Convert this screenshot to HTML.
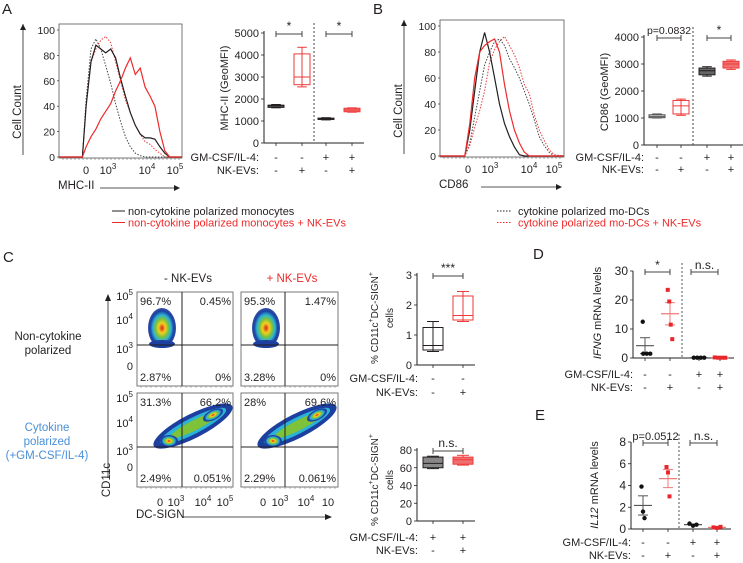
<!DOCTYPE html>
<html><head><meta charset="utf-8"><style>
html,body{margin:0;padding:0;background:#fff;width:743px;height:563px;overflow:hidden}
svg{font-family:"Liberation Sans",sans-serif;display:block}
</style></head><body>
<svg id="fig" width="743" height="563" viewBox="0 0 743 563" xmlns="http://www.w3.org/2000/svg">
<defs>
<radialGradient id="dens" cx="50%" cy="50%" r="50%">
<stop offset="0" stop-color="#e0201a"/><stop offset="0.25" stop-color="#f4d020"/><stop offset="0.45" stop-color="#7ec23a"/><stop offset="0.65" stop-color="#2bb3d6"/><stop offset="0.85" stop-color="#1d3fa0"/><stop offset="1" stop-color="#1d3fa0" stop-opacity="0.9"/>
</radialGradient>
</defs>
<g id="root"></g>
</svg>
<script>
// ---------- DATA ----------
const histAch = [0,19,22,26,30,34,38,42,46,50,54,58,62,66,70,74,78,82,86,90,100];
const histAblack = [0,0,40,75,88,85,82,85,78,62,48,35,25,18,15,15,14,8,3,0,0];
const histAgrey = [0,0,45,85,93,85,72,58,42,28,16,8,3,1,0,0,0,0,0,0,0];
const histAred = [0,0,8,16,22,30,36,42,52,60,70,78,65,70,55,48,40,20,5,0,0];
const histAredDot = [0,0,40,75,85,92,95,90,75,60,45,35,25,18,12,10,6,3,0,0,0];
const histBch = [0,20,24,28,32,36,40,44,48,52,56,60,64,68,72,76,80,84,88,92,100];
const histBblack = [0,0,20,50,80,95,80,60,40,25,15,7,1,0,0,0,0,0,0,0,0];
const histBred = [0,0,25,60,80,85,88,90,80,55,35,20,10,3,0,0,0,0,0,0,0];
const histBgrey = [0,0,10,30,50,70,80,88,90,85,75,68,60,50,40,28,15,8,3,0,0];
const histBredDot = [0,0,8,22,35,50,72,82,88,92,85,78,68,55,48,32,20,12,5,1,0];
const histTicks = [0,20,40,60,80,100];
const groupsGM = ["-","-","+","+"];
const groupsNK = ["-","+","-","+"];
// boxplots: [whiskerLow, q1, median, q3, whiskerHigh]
const boxA = [[1600,1620,1680,1720,1750],[2550,2650,3000,4050,4350],[1050,1070,1100,1130,1150],[1400,1420,1500,1580,1600]];
const boxATicks = [0,1000,2000,3000,4000,5000];
const boxB = [[1000,1010,1050,1120,1150],[1100,1150,1450,1650,1700],[2550,2600,2750,2850,2900],[2800,2850,3000,3100,3150]];
const boxBTicks = [0,1000,2000,3000,4000];
const boxC1 = [[0.45,0.5,0.65,1.25,1.45],[1.45,1.5,1.65,2.3,2.45]];
const boxC1Ticks = [0,1,2,3];
const boxC2 = [[59,60,65,72,73],[63,64,69,72,74]];
const boxC2Ticks = [0,20,40,60,80];
const dPoints = [[12.5,1.5,1.5,1.5],[23.5,19.5,11.5,6.5],[0.1,0.1,0.1,0.1],[0.2,0.1,0.1,0.1]];
const dTicks = [0,10,20,30];
const ePoints = [[3.9,1.6,1.0],[5.7,5.2,3.0],[0.5,0.3,0.4],[0.15,0.1,0.2]];
const eTicks = [0,2,4,6,8];

// ---------- HELPERS ----------
const NS="http://www.w3.org/2000/svg";
const root=document.getElementById('root');
function mk(tag,attrs,parent,text){const e=document.createElementNS(NS,tag);for(const k in attrs)e.setAttribute(k,attrs[k]);if(text!==undefined)e.textContent=text;(parent||root).appendChild(e);return e;}
function txt(x,y,s,opt,parent){opt=opt||{};const e=mk('text',{x:x,y:y,'font-size':opt.fs||10.5,fill:opt.fill||'#231f20','text-anchor':opt.anchor||'start'},parent);
 if(opt.rot)e.setAttribute('transform','rotate(-90 '+x+' '+y+')');
 e.innerHTML=s;return e;}
function line(x1,y1,x2,y2,st,w,dash,parent){const e=mk('line',{x1:x1,y1:y1,x2:x2,y2:y2,stroke:st||'#231f20','stroke-width':w||1},parent);if(dash)e.setAttribute('stroke-dasharray',dash);return e;}
function lin(d0,d1,r0,r1){return v=>r0+(v-d0)/(d1-d0)*(r1-r0);}
function sup(b,e){return b+'<tspan dy="-5" font-size="8">'+e+'</tspan>';}

// ---------- PANEL LETTERS ----------
[["A",2,14],["B",373,14],["C",3,262],["D",533,259],["E",535,420]].forEach(p=>{
 const t=txt(p[1],p[2],p[0],{fs:15});
 
 
});

// ---------- HISTOGRAM ----------
function histogram(name,x0,x1,yTop,yBot,ch,series,xt,xlabel){
 const g=mk('g',{},root);
 
 
 const fx=lin(0,100,x0,x1), fy=lin(0,100,yBot,30+(yTop-24));
 mk('rect',{x:x0,y:yTop,width:x1-x0,height:yBot-yTop+1,fill:'none',stroke:'#555','stroke-width':0.8},g);
 histTicks.forEach(t=>{txt(x0-4,fy(t)+4,t,{anchor:'end',fs:10.5},g);line(x0-2,fy(t),x0,fy(t),'#333',0.7,null,g);});
 series.forEach(s=>{
  let d='';ch.forEach((c,i)=>{d+=(i?'L':'M')+fx(c).toFixed(1)+','+fy(s.v[i]).toFixed(1);});
  const p=mk('path',{d:d,fill:'none',stroke:s.c,'stroke-width':s.w||1.2},g);
  if(s.dash)p.setAttribute('stroke-dasharray',s.dash);
  
  
 });
 for(let x=x0+4;x<x1;x+=4)line(x,yBot+1,x,yBot+3,'#555',0.5,null,g);
 xt.forEach(t=>txt(t[0],yBot+17,t[1],{anchor:'middle',fs:11},g));
 line(x0-36,yBot-2,x0-36,yTop,'#231f20',0.8,null,g);
 mk('path',{d:'M'+(x0-39)+','+(yTop+6)+'L'+(x0-36)+','+yTop+'L'+(x0-33)+','+(yTop+6),fill:'#231f20'},g);
 txt(x0-38,yBot-45,'Cell Count',{rot:1,anchor:'middle',fs:11.5},g);
 txt(x0-1,yBot+32,xlabel,{fs:11.5},g);
 line(x0+41,yBot+31,x1-3,yBot+31,'#231f20',0.8,null,g);
 mk('path',{d:'M'+(x1-8)+','+(yBot+28)+'L'+(x1-2)+','+(yBot+31)+'L'+(x1-8)+','+(yBot+34),fill:'#231f20'},g);
}
histogram('histogram-mhc-ii',59,182,24,157,histAch,[
 {v:histAgrey,c:'#444',dash:'1.5,1.5',w:1,n:'curve-cytokine-modc'},
 {v:histAredDot,c:'#ee3a3a',dash:'1.5,1.5',w:1,n:'curve-cytokine-modc-nkev'},
 {v:histAblack,c:'#231f20',n:'curve-monocytes'},
 {v:histAred,c:'#ee2a2a',n:'curve-monocytes-nkev'}],
 [[86,'0'],[108,sup('10','3')],[147,sup('10','4')],[175,sup('10','5')]],'MHC-II');
histogram('histogram-cd86',440,564,20,156,histBch,[
 {v:histBgrey,c:'#444',dash:'1.5,1.5',w:1,n:'curve-cytokine-modc'},
 {v:histBredDot,c:'#ee3a3a',dash:'1.5,1.5',w:1,n:'curve-cytokine-modc-nkev'},
 {v:histBblack,c:'#231f20',n:'curve-monocytes'},
 {v:histBred,c:'#ee2a2a',n:'curve-monocytes-nkev'}],
 [[468,'0'],[490,sup('10','3')],[529,sup('10','4')],[554,sup('10','5')]],'CD86');

// ---------- LEGENDS ----------
function legend(x,y,dash,labels){
 labels.forEach((l,i)=>{
  const g=mk('g',{},root);
  
  
  const yy=y+i*11.5;
  line(x,yy,x+(dash?15:13),yy,l[1],1,dash,g);
  txt(x+(dash?21:16),yy+4,l[0],{fs:11,fill:l[1]},g);
 });
}
legend(112,211,null,[['non-cytokine polarized monocytes','#231f20'],['non-cytokine polarized monocytes + NK-EVs','#ee2a2a']]);
legend(497,211,'1.5,1.5',[['cytokine polarized mo-DCs','#231f20'],['cytokine polarized mo-DCs + NK-EVs','#ee2a2a']]);

// ---------- GROUP LABEL ROWS ----------
function groupRows(xs,labelX,y1,y2,gm,nk,fs){
 txt(labelX,y1,'GM-CSF/IL-4:',{anchor:'end',fs:fs||11});
 txt(labelX,y2,'NK-EVs:',{anchor:'end',fs:fs||11});
 xs.forEach((x,i)=>{txt(x,y1,gm[i],{anchor:'middle',fs:fs||11});txt(x,y2,nk[i],{anchor:'middle',fs:fs||11});});
}

// ---------- BOXPLOT ----------
const boxStyles=[{s:'#231f20',f:'#888'},{s:'#ee3a3a',f:'none'},{s:'#231f20',f:'#555'},{s:'#ee3a3a',f:'#f07070'}];
function boxplot(name,axX,xs,yTopPx,yBotPx,dmax,ticks,boxes,styles,ylab,divX,sig,bw){
 const g=mk('g',{},root);
 
 
 const fy=lin(0,dmax,yBotPx,yTopPx);
 line(axX,fy(dmax)-2,axX,yBotPx,'#231f20',1,null,g);
 line(axX,yBotPx,xs[xs.length-1]+12,yBotPx,'#231f20',1,null,g);
 ticks.forEach(t=>{line(axX-3,fy(t),axX,fy(t),'#231f20',0.8,null,g);txt(axX-5,fy(t)+4,t,{anchor:'end',fs:11},g);});
 xs.forEach(x=>line(x,yBotPx,x,yBotPx+3,'#231f20',0.8,null,g));
 if(divX)line(divX,fy(dmax)-10,divX,yBotPx,'#444',1,'2,2',g);
 boxes.forEach((b,i)=>{
  const x=xs[i],st=styles[i],w=bw||8;
  const bg=mk('g',{},g);
  
  
  line(x,fy(b[0]),x,fy(b[4]),st.s,1,null,bg);
  line(x-w*0.6,fy(b[0]),x+w*0.6,fy(b[0]),st.s,1,null,bg);
  line(x-w*0.6,fy(b[4]),x+w*0.6,fy(b[4]),st.s,1,null,bg);
  mk('rect',{x:x-w,y:fy(b[3]),width:2*w,height:Math.max(1,fy(b[1])-fy(b[3])),fill:st.f,stroke:st.s,'stroke-width':1},bg);
  line(x-w,fy(b[2]),x+w,fy(b[2]),st.s,1,null,bg);
 });
 sig.forEach(s=>{
  const yb=fy(dmax)+1;
  line(s[0],yb,s[1],yb,'#444',1,null,g);line(s[0],yb-3,s[0],yb+3,'#444',1,null,g);line(s[1],yb-3,s[1],yb+3,'#444',1,null,g);
  txt((s[0]+s[1])/2,yb-4,s[2],{anchor:'middle',fs:s[2].length>4?10.5:12},g);
 });
 ylab.forEach(l=>txt(l[0],l[1],l[2],{rot:1,anchor:'middle',fs:l[3]||11},g));
 return fy;
}
boxplot('boxplot-mhc-ii',264,[276,302,326,352],33,143,5000,boxATicks,boxA,boxStyles,[[228,88,'MHC-II (GeoMFI)']],314,[[276,302,'*'],[326,352,'*']]);
groupRows([276,302,326,352],259,161,174,groupsGM,groupsNK);
boxplot('boxplot-cd86',644,[657,681,707,731],37,145,4000,boxBTicks,boxB,[{s:'#555',f:'#ccc'},{s:'#ee3a3a',f:'none'},{s:'#231f20',f:'#666'},{s:'#ee3a3a',f:'#f07070'}],[[608,92,'CD86 (GeoMFI)']],693,[[657,681,'p=0.0832'],[707,731,'*']]);
groupRows([657,681,707,731],644,161,173,groupsGM,groupsNK);
const cLab='% CD11c<tspan dy="-5" font-size="7">+</tspan><tspan dy="5">DC-SIGN</tspan><tspan dy="-5" font-size="7">+</tspan>';
boxplot('boxplot-dc-sign-noncytokine',417,[433,463],275,365,3,boxC1Ticks,boxC1,[{s:'#231f20',f:'none'},{s:'#ee3a3a',f:'none'}],[[378,318,cLab,10],[393,318,'cells',10]],null,[[433,463,'***']],10);
groupRows([433,463],418,382,396,['-','-'],['-','+']);
boxplot('boxplot-dc-sign-cytokine',417,[433,463],450,521,80,boxC2Ticks,boxC2,[{s:'#231f20',f:'#888'},{s:'#ee3a3a',f:'#f07070'}],[[378,480,cLab,10],[393,480,'cells',10]],null,[[433,463,'n.s.']],10);
groupRows([433,463],418,541,554,['+','+'],['-','+']);

// ---------- DOT PLOTS ----------
function dotplot(name,axX,xs,yTopPx,yBotPx,dmax,ticks,pts,ylab,divX,sig){
 const g=mk('g',{},root);
 
 
 const fy=lin(0,dmax,yBotPx,yTopPx);
 line(axX,fy(dmax),axX,yBotPx,'#231f20',1,null,g);
 line(axX,yBotPx,xs[3]+14,yBotPx,'#231f20',1,null,g);
 ticks.forEach(t=>{line(axX-3,fy(t),axX,fy(t),'#231f20',0.8,null,g);txt(axX-5,fy(t)+4,t,{anchor:'end',fs:12},g);});
 xs.forEach(x=>line(x,yBotPx,x,yBotPx+3,'#231f20',0.8,null,g));
 line(divX,fy(dmax)-8,divX,yBotPx,'#555',1,'2,2',g);
 pts.forEach((arr,i)=>{
  const red=i%2==1,col=red?'#e8262b':'#111',x=xs[i];
  const mean=arr.reduce((a,b)=>a+b,0)/arr.length;
  const sd=Math.sqrt(arr.reduce((a,b)=>a+(b-mean)*(b-mean),0)/(arr.length-1));
  const sem=sd/Math.sqrt(arr.length);
  const lc=red?'#f07a7a':'#555';
  line(x-9,fy(mean),x+9,fy(mean),lc,1.2,null,g);
  line(x,fy(mean-sem),x,fy(mean+sem),lc,1,null,g);
  line(x-5,fy(mean-sem),x+5,fy(mean-sem),lc,1,null,g);
  line(x-5,fy(mean+sem),x+5,fy(mean+sem),lc,1,null,g);
  arr.forEach((v,j)=>{
   const off=(j-(arr.length-1)/2)*(v<dmax*0.1?3.5:1.5);
   let e;
   if(red)e=mk('rect',{x:x+off-2,y:fy(v)-2,width:4,height:4,fill:col},g);
   else e=mk('circle',{cx:x+off,cy:fy(v),r:2.2,fill:col},g);
   
   
  });
 });
 sig.forEach(s=>{
  const yb=fy(dmax)+1;
  line(s[0],yb,s[1],yb,'#444',1,null,g);line(s[0],yb-3,s[0],yb+3,'#444',1,null,g);line(s[1],yb-3,s[1],yb+3,'#444',1,null,g);
  txt((s[0]+s[1])/2,yb-3,s[2],{anchor:'middle',fs:s[2].length>4?11:12},g);
 });
 txt(ylab[0],ylab[1],ylab[2],{rot:1,anchor:'middle',fs:11},g);
}
dotplot('dotplot-ifng',633,[645,670,699,720],271,358,30,dTicks,dPoints,[601,313,'<tspan font-style="italic">IFNG</tspan> mRNA levels'],682,[[645,670,'*'],[691,718,'n.s.']]);
groupRows([645,670,699,720],633,378,391,groupsGM,groupsNK);
dotplot('dotplot-il12',631,[643,668,693,717],442,529,8,eTicks,ePoints,[598,485,'<tspan font-style="italic">IL12</tspan> mRNA levels'],679,[[643,668,'p=0.0512'],[690,717,'n.s.']]);
groupRows([643,668,693,717],631,546,559,groupsGM,groupsNK);

// ---------- FLOW PLOTS (C) ----------
txt(188,282,'- NK-EVs',{anchor:'middle',fs:11.5});
txt(292,282,'+ NK-EVs',{anchor:'middle',fs:11.5,fill:'#ee2a2a'});
txt(48,340,'Non-cytokine',{anchor:'middle',fs:11.5});
txt(48,354,'polarized',{anchor:'middle',fs:11.5});
txt(47,431,'Cytokine',{anchor:'middle',fs:11.5,fill:'#4a8fd8'});
txt(47,445,'polarized',{anchor:'middle',fs:11.5,fill:'#4a8fd8'});
txt(47,459,'(+GM-CSF/IL-4)',{anchor:'middle',fs:11.5,fill:'#4a8fd8'});
function flow(name,x0,y0,w,h,vx,hy,pcts,top){
 const g=mk('g',{},root);
 
 
 mk('rect',{x:x0,y:y0,width:w,height:h,fill:'#fff',stroke:'#777','stroke-width':1},g);
 if(top){
  mk('ellipse',{cx:x0+25,cy:y0+36,rx:14,ry:20,fill:'url(#dens)'},g);
  mk('ellipse',{cx:x0+25,cy:y0+52,rx:13,ry:4,fill:'#1d3fa0'},g);
 } else {
  const r='rotate(-27 ';
  mk('ellipse',{cx:x0+56,cy:y0+33,rx:44,ry:12,fill:'#1d3fa0',transform:r+(x0+56)+' '+(y0+33)+')'},g);
  mk('ellipse',{cx:x0+56,cy:y0+33,rx:37,ry:8,fill:'#2bb3d6',transform:r+(x0+56)+' '+(y0+33)+')'},g);
  mk('ellipse',{cx:x0+58,cy:y0+32,rx:28,ry:5,fill:'#7ec23a',transform:r+(x0+58)+' '+(y0+32)+')'},g);
  mk('ellipse',{cx:x0+76,cy:y0+22,rx:11,ry:5,fill:'url(#dens)',transform:r+(x0+76)+' '+(y0+22)+')'},g);
  mk('ellipse',{cx:x0+32,cy:y0+48,rx:9,ry:6,fill:'url(#dens)'},g);
 }
 line(x0+vx,y0,x0+vx,y0+h,'#231f20',1,null,g);
 line(x0,y0+hy,x0+w,y0+hy,'#231f20',1,null,g);
 txt(x0+3,y0+13,pcts[0],{fs:11},g);
 txt(x0+w-2,y0+13,pcts[1],{anchor:'end',fs:11},g);
 txt(x0+3,y0+h-5,pcts[2],{fs:11},g);
 txt(x0+w-2,y0+h-5,pcts[3],{anchor:'end',fs:11},g);
 for(let x=x0+4;x<x0+w;x+=5)line(x,y0+h,x,y0+h+2,'#777',0.5,null,g);
}
flow('flow-noncytokine-minus',137,292,96,94,45,53,['96.7%','0.45%','2.87%','0%'],true);
flow('flow-noncytokine-plus',241,292,97,94,44,53,['95.3%','1.47%','3.28%','0%'],true);
flow('flow-cytokine-minus',137,393,96,94,45,54,['31.3%','66.2%','2.49%','0.051%'],false);
flow('flow-cytokine-plus',241,393,97,94,44,54,['28%','69.6%','2.29%','0.061%'],false);
[[296,sup('10','5')],[320,sup('10','4')],[349,sup('10','3')],[366,'0'],[398,sup('10','5')],[423,sup('10','4')],[451,sup('10','3')],[467,'0']].forEach(t=>txt(133,t[0]+4,t[1],{anchor:'end',fs:11}));
[[160,'0'],[176,sup('10','3')],[203,sup('10','4')],[225,sup('10','5')],[263,'0'],[280,sup('10','3')],[306,sup('10','4')],[328,'10']].forEach(t=>txt(t[0],506,t[1],{anchor:'middle',fs:11}));
line(108,295,108,478,'#231f20',0.8);
mk('path',{d:'M105,301L108,294L111,301',fill:'#231f20'});
txt(110,480,'CD11c',{rot:1,anchor:'middle',fs:11.5});
txt(136,518,'DC-SIGN',{fs:11.5});
line(183,517,330,517,'#231f20',0.8);
mk('path',{d:'M325,514L332,517L325,520',fill:'#231f20'});
</script>
</body></html>
